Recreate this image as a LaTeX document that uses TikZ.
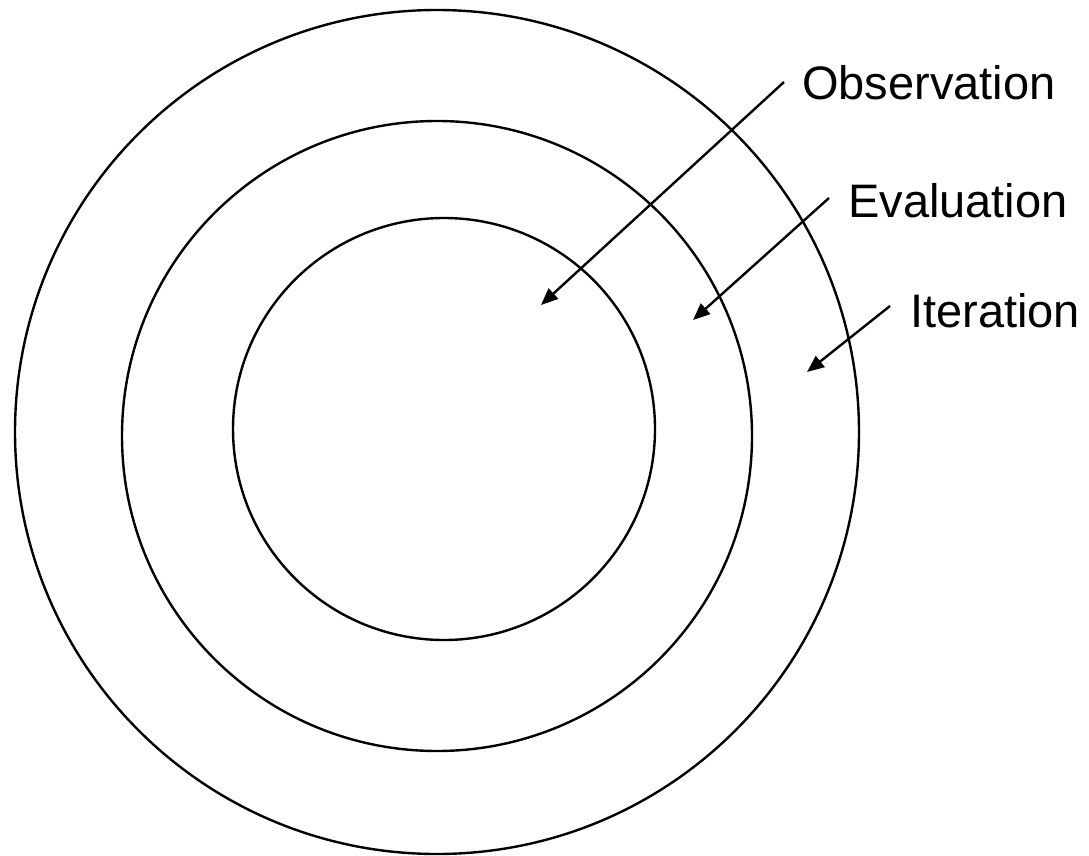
\documentclass[tikz,border=0pt]{standalone}
\usepackage{fontspec}
\setmainfont{Liberation Sans}
\usetikzlibrary{arrows.meta}
\begin{document}
\begin{tikzpicture}[x=1pt,y=-1pt,
  ring/.style={draw=black,line width=2.4pt},
  pointer/.style={draw=black,line width=2.4pt,-{Triangle[length=17pt,width=14pt]}},
  lbl/.style={anchor=base west,inner sep=0pt,font=\fontsize{47}{47}\selectfont}]
\useasboundingbox (0,0) rectangle (1089,856);
\draw[ring] (437,432) circle (422);
\draw[ring] (437,436) circle (315);
\draw[ring] (444,429) circle (211);
\node[lbl] (obs) at (802,100) {Observation};
\node[lbl] (eva) at (848,217) {Evaluation};
\node[lbl] (ite) at (910,327) {Iteration};
\coordinate (obsA) at (784,82);
\coordinate (obsB) at (541,305);
\coordinate (evaA) at (829,198);
\coordinate (evaB) at (693,320);
\coordinate (iteA) at (890,306);
\coordinate (iteB) at (807,372);
\draw[pointer] (obsA) -- (obsB);
\draw[pointer] (evaA) -- (evaB);
\draw[pointer] (iteA) -- (iteB);
\end{tikzpicture}
\end{document}
